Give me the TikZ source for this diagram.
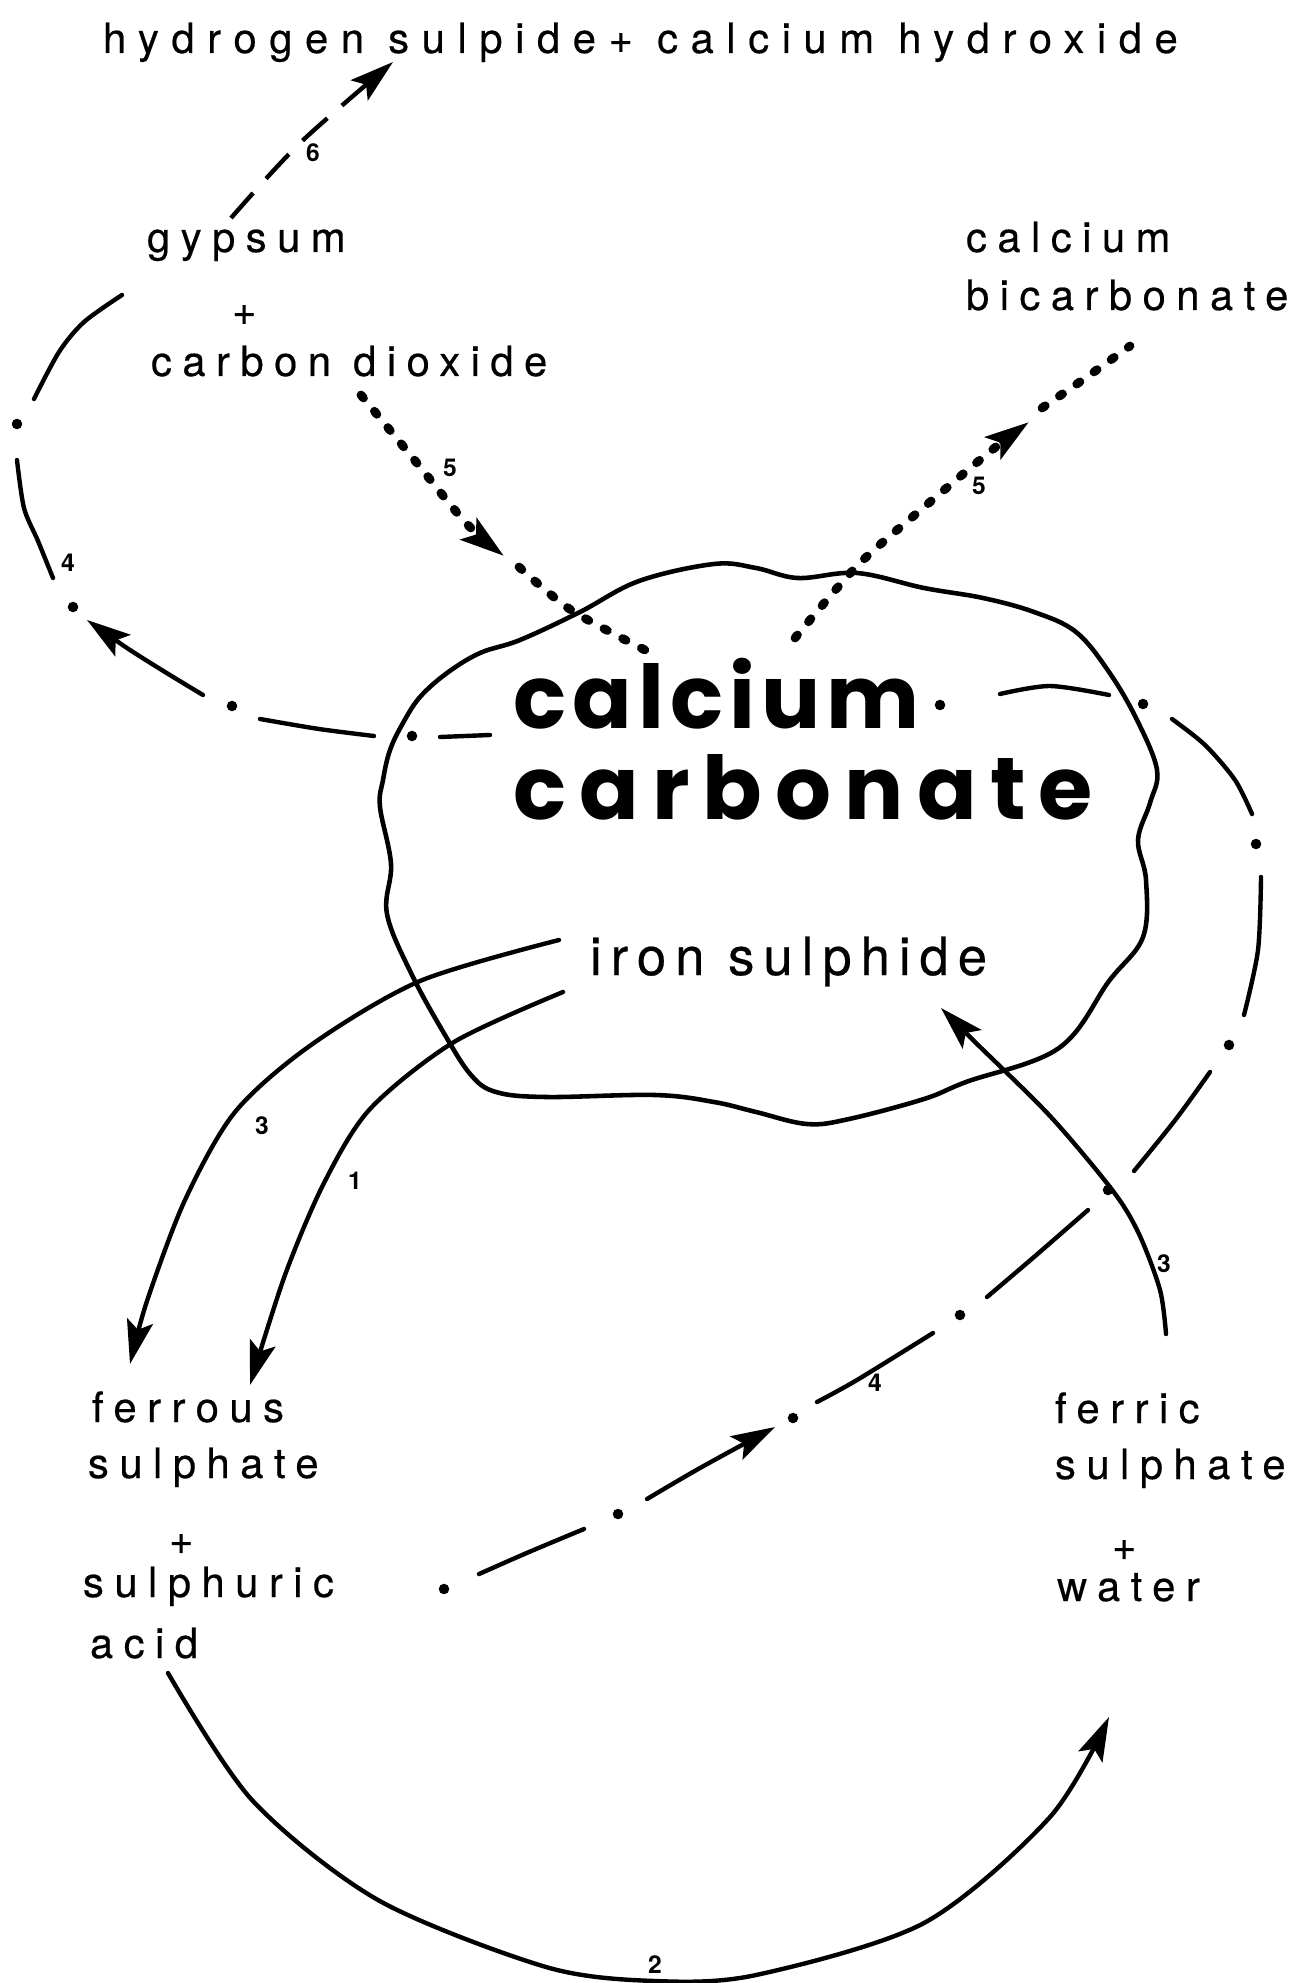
\documentclass[tikz,border=0pt]{standalone}
\usepackage{fontspec}
\setmainfont{TeX Gyre Heros}
\newfontfamily\spaced{TeX Gyre Heros}[LetterSpace=25,FakeBold=0.4]
\newfontfamily\titlefont{TeX Gyre Heros}[LetterSpace=30,FakeBold=0.4]
\newfontfamily\ironfont{TeX Gyre Heros}[LetterSpace=17,FakeBold=0.4]
\newfontfamily\blobfontA{Poppins}[LetterSpace=7]
\newfontfamily\blobfontB{Poppins}[LetterSpace=15]
\usetikzlibrary{arrows.meta}

\begin{document}
\begin{tikzpicture}[x=0.02cm,y=-0.02cm,
  every node/.style={inner sep=0pt,outer sep=0pt},
  chem/.style={anchor=base west,font=\spaced\fontsize{23.8}{28}\selectfont},
  num/.style={font=\bfseries\fontsize{14}{16}\selectfont},
  line/.style={line width=2.5pt,line cap=round},
  tip/.style={-{Stealth[length=25pt,width=15pt,inset=5pt]}},
  dots/.style={line width=5pt,line cap=round,dash pattern=on 2.2pt off 9.8pt},
  dashes/.style={line width=2.5pt,dash pattern=on 19pt off 11pt}]

\useasboundingbox (0,0) rectangle (1310,1983);

% =========================
% CALCIUM CARBONATE
% =========================

\draw[line width=2.6pt,line join=round] plot[smooth cycle,tension=0.6] coordinates {
  (520,640) (580,612) (639,581) (714,564) (756,568) (798,578) (857,573)
  (924,588) (983,598) (1034,612) (1076,632) (1109,672) (1137,720)
  (1157,770) (1150,803) (1138,840) (1146,880) (1143,937) (1109,981)
  (1059,1048) (966,1082) (924,1099) (849,1119) (807,1124) (756,1112)
  (714,1102) (655,1095) (546,1097) (496,1092) (471,1075) (445,1035)
  (412,975) (387,914) (391,864) (380,807) (383,780) (390,750) (403,723)
  (420,697) (447,673) (480,653)};

% =========================
% TEXTS
% =========================

\node[chem,font=\titlefont\fontsize{23.8}{28}\selectfont] (title) at (103,53) {hydrogen sulpide+ calcium hydroxide};
\node[chem] (gyp) at (147,252) {gypsum};
\node[chem] (gypplus) at (232,325) {+};
\node[chem] (cdiox) at (151,376) {carbon dioxide};
\node[chem] (bical) at (966,252) {calcium};
\node[chem] (bicarb) at (966,310) {bicarbonate};

\node[anchor=base west,font=\blobfontA\bfseries\fontsize{50}{58}\selectfont] (cacl) at (513,728) {calcium};
\node[anchor=base west,font=\blobfontB\bfseries\fontsize{50}{58}\selectfont] (cacb) at (513,819) {carbonate};
\node[anchor=base west,font=\ironfont\fontsize{30}{36}\selectfont] (fes) at (590,975) {iron sulphide};

\node[chem] (ferrous) at (92,1422) {ferrous};
\node[chem] (lsulph) at (88,1478) {sulphate};
\node[chem] (lplus) at (169,1554) {+};
\node[chem] (sulph) at (83,1597) {sulphuric};
\node[chem] (acid) at (90,1658) {acid};

\node[chem] (ferric) at (1055,1423) {ferric};
\node[chem] (rsulph) at (1055,1479) {sulphate};
\node[chem] (rplus) at (1112,1560) {+};
\node[chem] (water) at (1057,1601) {water};

% =========================
% POINTS
% =========================

% 6 : gypsum -> hydrogen sulpide
\coordinate (g1) at (231,218);
\coordinate (g2) at (300,143);
\coordinate (g3) at (393,62);

% 5 : carbon dioxide -> calcium carbonate -> bicarbonate
\coordinate (a1) at (361,395);
\coordinate (a2) at (412,457);
\coordinate (a3) at (466,523);
\coordinate (a4) at (504,556);
\coordinate (a5) at (519,567);
\coordinate (a6) at (571,610);
\coordinate (a7) at (645,650);
\coordinate (b1) at (795,638);
\coordinate (b2) at (857,566);
\coordinate (b3) at (923,508);
\coordinate (b4) at (992,450);
\coordinate (b5) at (1029,422);
\coordinate (b6) at (1042,408);
\coordinate (b7) at (1084,379);
\coordinate (b8) at (1130,346);

% 4 : the long dash-dot loop, dots
\coordinate (q1) at (444,1589);
\coordinate (q2) at (618,1514);
\coordinate (q3) at (793,1418);
\coordinate (q4) at (960,1315);
\coordinate (q5) at (1108,1190);
\coordinate (q6) at (1229,1045);
\coordinate (q7) at (1256,844);
\coordinate (q8) at (1143,704);
\coordinate (q9) at (940,705);
\coordinate (q10) at (412,736);
\coordinate (q11) at (232,706);
\coordinate (q12) at (73,607);
\coordinate (q13) at (17,424);

% =========================
% CONNECTORS
% =========================

% 6
\draw[dashes,tip] plot[smooth] coordinates {(g1) (g2) (g3)};

% 5
\draw[dots,tip] plot[smooth] coordinates {(a1) (a2) (a3) (a4)};
\draw[dots] plot[smooth] coordinates {(a5) (a6) (a7)};
\draw[dots,tip] plot[smooth] coordinates {(b1) (b2) (b3) (b4) (b5)};
\draw[dots] plot[smooth] coordinates {(b6) (b7) (b8)};

% 1 and 3 : iron sulphide -> ferrous sulphate
\draw[line,tip] plot[smooth] coordinates {(563,992) (454,1042) (370,1109) (324,1183) (285,1275) (250,1385)};
\draw[line,tip] plot[smooth] coordinates {(559,940) (420,981) (311,1045) (235,1112) (185,1200) (147,1301) (130,1364)};

% 3 : ferric sulphate -> iron sulphide
\draw[line,tip] plot[smooth] coordinates {(1166,1334) (1160,1290) (1139,1234) (1113,1191) (1050,1116) (975,1042) (941,1008)};

% 2 : sulphuric acid -> water
\draw[line,tip] plot[smooth] coordinates {(168,1673) (252,1800) (378,1900) (546,1967) (655,1981) (756,1975) (924,1923) (1050,1817) (1109,1717)};

% 4
\foreach \i in {1,...,13} \fill (q\i) circle (3pt);
\draw[line] plot[smooth] coordinates {(479,1574) (529,1552) (584,1529)};
\draw[line,tip] plot[smooth] coordinates {(647,1499) (700,1468) (775,1427)};
\draw[line] plot[smooth] coordinates {(817,1402) (857,1380) (933,1333)};
\draw[line] plot[smooth] coordinates {(987,1297) (1034,1257) (1088,1210)};
\draw[line] plot[smooth] coordinates {(1134,1171) (1176,1119) (1210,1072)};
\draw[line] plot[smooth] coordinates {(1244,1015) (1258,950) (1261,877)};
\draw[line] plot[smooth] coordinates {(1252,814) (1235,780) (1205,745) (1172,719)};
\draw[line] plot[smooth] coordinates {(1109,695) (1050,686) (1000,694)};
\draw[line] plot[smooth] coordinates {(490,735) (440,737)};
\draw[line] plot[smooth] coordinates {(374,736) (319,729) (260,719)};
\draw[line,tip] plot[smooth] coordinates {(203,695) (165,672) (127,648) (87,620)};
\draw[line] plot[smooth] coordinates {(53,578) (38,541) (24,508) (17,460)};
\draw[line] plot[smooth] coordinates {(34,399) (59,352) (84,322) (122,295)};

% =========================
% LABELS
% =========================

\node[num] (n6) at (313,153) {6};
\node[num] (n5a) at (450,468) {5};
\node[num] (n5b) at (979,486) {5};
\node[num] (n4a) at (68,563) {4};
\node[num] (n3a) at (262,1126) {3};
\node[num] (n1) at (355,1181) {1};
\node[num] (n3b) at (1164,1264) {3};
\node[num] (n4b) at (875,1383) {4};
\node[num] (n2) at (655,1965) {2};

\end{tikzpicture}
\end{document}
